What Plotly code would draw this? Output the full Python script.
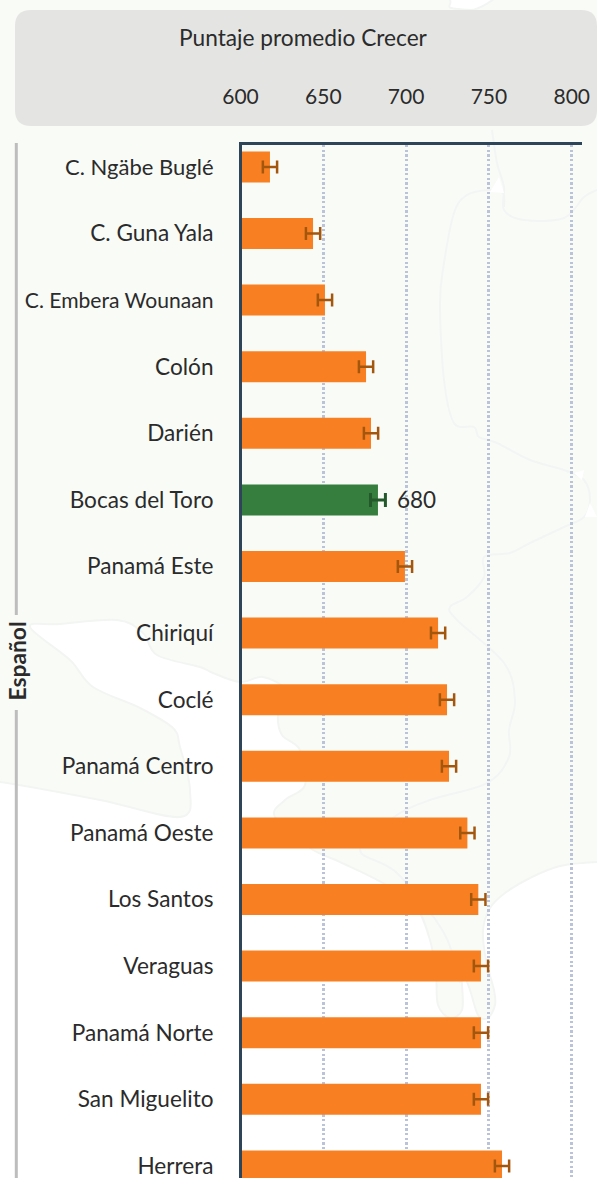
import plotly.graph_objects as go

W, H = 597, 1178

# ---- data ----
categories = ["C. Ngäbe Buglé", "C. Guna Yala", "C. Embera Wounaan", "Colón", "Darién",
              "Bocas del Toro", "Panamá Este", "Chiriquí", "Coclé", "Panamá Centro",
              "Panamá Oeste", "Los Santos", "Veraguas", "Panamá Norte", "San Miguelito", "Herrera"]
scores = [617.8, 643.8, 651.0, 675.8, 678.8, 683.0, 699.3, 719.3, 724.7, 725.9,
          737.0, 743.6, 745.2, 745.2, 745.2, 757.9]
margins = [4.3, 4.3, 4.3, 4.3, 4.3, 4.5, 4.3, 4.3, 4.3, 4.3, 4.3, 4.3, 4.3, 4.3, 4.3, 4.3]
highlight = "Bocas del Toro"
highlight_label = "680"
x_ticks = [600, 650, 700, 750, 800]
axis_title = "Puntaje promedio Crecer"
group_label = "Español"
long_label = "C. Embera Wounaan"
narrow_label = "C. Ngäbe Buglé"

# ---- decorative background map (page pixels) ----
land = [(-30,782),(-30,-30),(450,-30),(450,0),(470,10),(640,10),(640,862),(597,862),(560,866),(530,878),(505,893),(490,908),(483,930),
        (486,960),(494,990),(495,1005),(488,1018),(478,1015),(470,990),(460,965),(462,985),(462,1010),
        (450,1018),(438,1005),(436,975),(430,940),(415,905),(383,883),(340,862),(310,848),(275,817),
        (285,800),(305,785),(300,750),(282,735),(278,715),(285,690),(263,677),(240,682),(213,673),
        (200,667),(157,655),(143,633),(117,620),(60,624),(30,627),(70,660),(93,687),(140,708),(173,728),
        (180,747),(190,790),(180,817),(100,800),(0,782)]
map_lines = [
    [(504,207),(503,193),(489,190),(467,195),(454,213),(444,263),(440,303),(444,380),(454,423),(474,427),
     (479,437),(497,443),(530,460),(564,470),(584,480),(590,500),(584,517),(564,527),(530,543),(510,553),
     (484,557),(484,577),(467,597),(450,607),(457,620),(504,663),(515,700),(509,730),(509,757),(487,783),
     (430,800),(394,817),(360,850),(397,873),(444,933),(460,983)],
    [(492,130),(497,163),(504,187),(504,210),(524,220),(564,218),(584,197),(597,190)],
]
white_bits = [[(499,177),(504,193),(490,192)], [(584,470),(582,480),(574,473)], [(590,503),(597,517),(585,517)]]


def px(p):
    return p[0] / W, 1 - p[1] / H


def path(points, closed=False):
    pts = [px(p) for p in points]
    s = "M %.5f,%.5f" % pts[0]
    for a, b in zip(pts, pts[1:]):
        s += " L %.5f,%.5f" % b
    return s + (" Z" if closed else "")


def smooth(points, closed=False):
    pts = [px(p) for p in points]
    n = len(pts)
    s = "M %.5f,%.5f" % pts[0]
    for i in range(n if closed else n - 1):
        p0 = pts[(i - 1) % n] if (closed or i > 0) else pts[i]
        p1, p2 = pts[i % n], pts[(i + 1) % n]
        p3 = pts[(i + 2) % n] if (closed or i + 2 < n) else p2
        c1 = (p1[0] + (p2[0] - p0[0]) / 6, p1[1] + (p2[1] - p0[1]) / 6)
        c2 = (p2[0] - (p3[0] - p1[0]) / 6, p2[1] - (p3[1] - p1[1]) / 6)
        s += " C %.5f,%.5f %.5f,%.5f %.5f,%.5f" % (*c1, *c2, *p2)
    return s + (" Z" if closed else "")


def rounded(x0, y0, x1, y1, r):
    (a, b), (c, d) = px((x0, y0)), px((x1, y1))
    rx, ry = r / W, r / H
    return (f"M {a+rx},{b} L {c-rx},{b} Q {c},{b} {c},{b-ry} L {c},{d+ry} Q {c},{d} {c-rx},{d} "
            f"L {a+rx},{d} Q {a},{d} {a},{d+ry} L {a},{b-ry} Q {a},{b} {a+rx},{b} Z")


shapes = [dict(type="path", xref="paper", yref="paper", layer="below", path=smooth(land, True),
               fillcolor="#F9FBF7", line=dict(color="#F3F5F3", width=2))]
for ln in map_lines:
    shapes.append(dict(type="path", xref="paper", yref="paper", layer="below", path=smooth(ln),
                       line=dict(color="#F3F5F4", width=2)))
for tri in white_bits:
    shapes.append(dict(type="path", xref="paper", yref="paper", layer="below", path=path(tri, True),
                       fillcolor="#FFFFFF", line=dict(width=0)))
shapes.append(dict(type="path", xref="paper", yref="paper", layer="below",
                   path=rounded(15, 10, 597, 126, 16), fillcolor="#E4E5E3", line=dict(width=0)))
for seg in ([(16.3, 143), (16.3, 615)], [(16.3, 710), (16.3, H)]):
    shapes.append(dict(type="path", xref="paper", yref="paper", layer="below", path=path(seg),
                       line=dict(color="#BDBDBD", width=3)))
shapes.append(dict(type="path", xref="paper", yref="paper", layer="above",
                   path=path([(240.5, 142), (240.5, H)]), line=dict(color="#2D4459", width=3)))

TEXT = "#2B2B2B"
FONT = "Lato"
hi = categories.index(highlight)
others = [i for i in range(len(categories)) if i != hi]
label_sizes = {long_label: 21.1, narrow_label: 22.0}
tick_text = [f'<span style="font-size:{label_sizes[c]}px">{c}</span>' if c in label_sizes else c
             for c in categories]

fig = go.Figure()
fig.add_bar(y=[categories[i] for i in others], x=[scores[i] for i in others], orientation="h",
            width=0.4655, marker=dict(color="#F98022", line=dict(width=0)),
            error_x=dict(type="data", array=[margins[i] for i in others], color="#A3560E",
                         thickness=2.5, width=6.5))
fig.add_bar(y=[categories[hi]], x=[scores[hi]], orientation="h",
            width=0.4655, marker=dict(color="#367E3E", line=dict(width=0)),
            error_x=dict(type="data", array=[margins[hi]], color="#23592B", thickness=3, width=7))

fig.update_layout(
    width=W, height=H, autosize=False, showlegend=False, barmode="overlay",
    margin=dict(l=0, r=0, t=0, b=0, pad=0, autoexpand=False),
    paper_bgcolor="#FFFFFF", plot_bgcolor="rgba(0,0,0,0)",
    font=dict(family=FONT, color=TEXT, size=21),
    shapes=shapes,
    annotations=[
        dict(xref="paper", yref="paper", x=303 / W, y=1 - 38 / H, text=axis_title, showarrow=False,
             xanchor="center", yanchor="middle", font=dict(family=FONT, size=22.7, color=TEXT)),
        dict(xref="paper", yref="paper", x=16 / W, y=1 - 661.5 / H, text="<b>" + group_label + "</b>",
             showarrow=False, textangle=-90, xanchor="center", yanchor="middle",
             font=dict(family=FONT, size=22.8, color=TEXT)),
        dict(xref="x", yref="y", x=scores[hi], y=highlight, text=highlight_label, showarrow=False,
             xanchor="left", yanchor="middle", xshift=17, font=dict(family=FONT, size=22.5, color=TEXT)),
    ],
    xaxis=dict(domain=[240.5 / W, 582 / W], range=[600, 806.2], side="top", tickmode="array",
               tickvals=x_ticks, ticks="", ticklabelstandoff=30, showgrid=True, gridcolor="#BAC3D8",
               gridwidth=2.6, griddash="2.33px,2.33px", zeroline=False, showline=True, linecolor="#2D4459",
               linewidth=3, tickfont=dict(family=FONT, size=21, color=TEXT), automargin=False),
    yaxis=dict(domain=[0, 1 - 145 / H], range=[15.182, -0.3288], type="category",
               categoryorder="array", categoryarray=categories, tickmode="array",
               tickvals=categories, ticktext=tick_text, ticks="", ticklabelstandoff=26, showgrid=False,
               zeroline=False, showline=False, tickfont=dict(family=FONT, size=22.6, color=TEXT),
               automargin=False),
)

fig.write_html("out.html", config=dict(displayModeBar=False),
               post_script="document.body.style.margin='0';document.documentElement.style.overflow='hidden';")
